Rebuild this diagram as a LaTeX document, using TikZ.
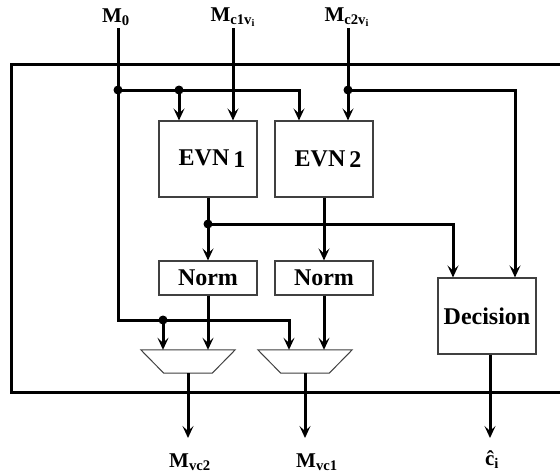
\documentclass[tikz,border=0pt]{standalone}
\usepackage{fontspec}
\setmainfont{Liberation Serif}
\usetikzlibrary{arrows.meta}
\begin{document}
\begin{tikzpicture}[x=1pt,y=-1pt,
  wire/.style={line width=3pt},
  arr/.style={wire,-{Stealth[length=12pt,width=11pt,inset=5pt]}},
  blk/.style={draw=black!75,line width=1.1pt,fill=white,inner sep=0pt,
    minimum width=98pt,font=\bfseries\fontsize{24}{26}\selectfont},
  muxbox/.style={inner sep=0pt,minimum width=94pt,minimum height=23pt},
  muxline/.style={draw=black!75,line width=1pt,fill=white},
  lbl/.style={font=\bfseries\fontsize{21}{23}\selectfont,inner sep=0pt},
  jdot/.style={circle,fill=black,inner sep=0pt,minimum size=9pt}]
\useasboundingbox (0,0) rectangle (560,475);

% outer frame
\draw[wire] (562,64) -- (11,64) -- (11,392) -- (562,392);

% blocks
\node[blk,minimum height=76pt] (evn1) at (208,159) {\hspace*{8pt}EVN\,\raisebox{-2pt}{1}};
\node[blk,minimum height=76pt] (evn2) at (324,159) {\hspace*{8pt}EVN\,\raisebox{-1pt}{2}};
\node[blk,minimum height=34pt] (norm1) at (208,278) {Norm};
\node[blk,minimum height=34pt] (norm2) at (324,278) {Norm};
\node[blk,minimum height=76pt] (dec) at (487,316) {Decision};
\node[muxbox] (mux1) at (188,361.5) {};
\node[muxbox] (mux2) at (305,361.5) {};
\foreach \m in {mux1,mux2}
  \path[muxline] (\m.north west) -- (\m.north east)
    -- ([xshift=-23pt]\m.south east) -- ([xshift=23pt]\m.south west) -- cycle;

% labels
\node[lbl] (lm0) at (116,17) {M\textsubscript{0}};
\node[lbl] (lc1) at (233,17) {M\textsubscript{c1v\textsubscript{i}}};
\node[lbl] (lc2) at (347,17) {M\textsubscript{c2v\textsubscript{i}}};
\node[lbl] (lv2) at (190,462) {M\textsubscript{vc2}};
\node[lbl] (lv1) at (317,462) {M\textsubscript{vc1}};
\node[lbl] (lci) at (492,460) {\^{c}\textsubscript{i}};

% coordinates
\coordinate (m0) at (118,28);
\coordinate (c1) at (233,28);
\coordinate (c2) at (348,28);
\coordinate (j0) at (118,90);
\coordinate (jA) at (179,90);
\coordinate (jB) at (299,90);
\coordinate (j2) at (348,90);
\coordinate (jC) at (515,90);
\coordinate (k1) at (208,224);
\coordinate (kC) at (453,224);
\coordinate (q0) at (118,320);
\coordinate (q1) at (163,320);
\coordinate (q2) at (289,320);
\coordinate (o1) at (188,438);
\coordinate (o2) at (305,438);
\coordinate (o3) at (490,438);

% connectors
\draw[arr] (m0) -- (q0) -- (q2) -- (q2 |- mux2.north);
\draw[arr] (j0) -- (jB) -- (jB |- evn2.north);
\draw[arr] (jA) -- (jA |- evn1.north);
\draw[arr] (c1) -- (c1 |- evn1.north);
\draw[arr] (c2) -- (c2 |- evn2.north);
\draw[arr] (j2) -- (jC) -- (jC |- dec.north);
\draw[arr] (evn1.south) -- (norm1.north);
\draw[arr] (evn2.south) -- (norm2.north);
\draw[arr] (k1) -- (kC) -- (kC |- dec.north);
\draw[arr] (q1) -- (q1 |- mux1.north);
\draw[arr] (norm1.south) -- (norm1.south |- mux1.north);
\draw[arr] (norm2.south) -- (norm2.south |- mux2.north);
\draw[arr] (mux1.south) -- (o1);
\draw[arr] (mux2.south) -- (o2);
\draw[arr] (dec.south -| o3) -- (o3);

% junction dots
\node[jdot] (d0) at (j0) {};
\node[jdot] (dA) at (jA) {};
\node[jdot] (d2) at (j2) {};
\node[jdot] (dk) at (k1) {};
\node[jdot] (dq) at (q1) {};
\end{tikzpicture}
\end{document}
